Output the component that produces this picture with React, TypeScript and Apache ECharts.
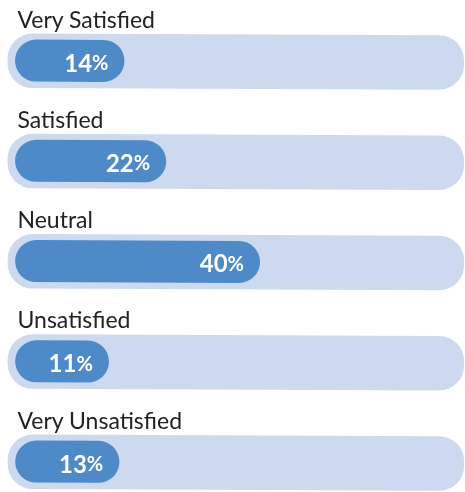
import React, { useEffect, useRef } from "react";
import * as echarts from "echarts";

const categories = ["Very Satisfied", "Satisfied", "Neutral", "Unsatisfied", "Very Unsatisfied"];
const values = [14, 22, 40, 11, 13];
const axisMin = -7;
const axisMax = 78;

const TRACK = "#cdd9ee";
const BAR = "#4e89c8";
const LABEL_FONT = "Lato, 'Open Sans', sans-serif";
const VALUE_FONT = "Lato, 'Noto Sans', sans-serif";

export default function App() {
  const ref = useRef<HTMLDivElement>(null);
  useEffect(() => {
    if (!ref.current) return;
    const chart = echarts.init(ref.current, undefined, { renderer: "svg" });
    const option: any = {
      animation: false,
      grid: { left: 15, right: 7, top: 60.5, bottom: 30.5 },
      xAxis: { type: "value", min: axisMin, max: axisMax, show: false },
      yAxis: {
        type: "category",
        data: categories,
        inverse: true,
        boundaryGap: false,
        show: false,
      },
      series: [
        {
          type: "custom",
          data: values.map((v, i) => [v, i]),
          encode: { x: 0, y: 1 },
          renderItem: (params: any, api: any) => {
            const v = api.value(0);
            const idx = api.value(1);
            const [xe, yc] = api.coord([v, idx]);
            const [xs] = api.coord([axisMin, idx]);
            const cs = params.coordSys;
            const tx0 = cs.x - 7.5;
            const tx1 = api.getWidth() - 1;
            const rot = -0.0044;
            return {
              type: "group",
              children: [
                {
                  type: "rect",
                  shape: { x: tx0, y: yc - 27, width: tx1 - tx0, height: 54.5, r: 25 },
                  rotation: rot,
                  originX: tx0,
                  originY: yc,
                  style: { fill: TRACK },
                },
                {
                  type: "rect",
                  shape: { x: xs, y: yc - 21, width: xe - xs, height: 42, r: 21 },
                  rotation: rot,
                  originX: tx0,
                  originY: yc,
                  style: { fill: BAR },
                },
                {
                  type: "text",
                  x: 17.5,
                  y: yc - 42,
                  style: {
                    text: categories[idx],
                    fill: "#222222",
                    fontSize: 23,
                    fontFamily: LABEL_FONT,
                    align: "left",
                    verticalAlign: "middle",
                  },
                },
                {
                  type: "text",
                  x: xe - 16,
                  y: yc + 1.5,
                  style: {
                    text: "{n|" + v + "}{p|%}",
                    align: "right",
                    verticalAlign: "middle",
                    rich: {
                      n: { fontSize: 24, fontWeight: "bold", fill: "#ffffff", fontFamily: VALUE_FONT },
                      p: { fontSize: 20, fontWeight: "bold", fill: "#ffffff", fontFamily: VALUE_FONT },
                    },
                  },
                },
              ],
            };
          },
        },
      ],
    };
    chart.setOption(option);
    return () => chart.dispose();
  }, []);
  return (
    <div
      ref={ref}
      style={{ position: "fixed", left: 0, top: 0, width: 465, height: 492 }}
    />
  );
}
